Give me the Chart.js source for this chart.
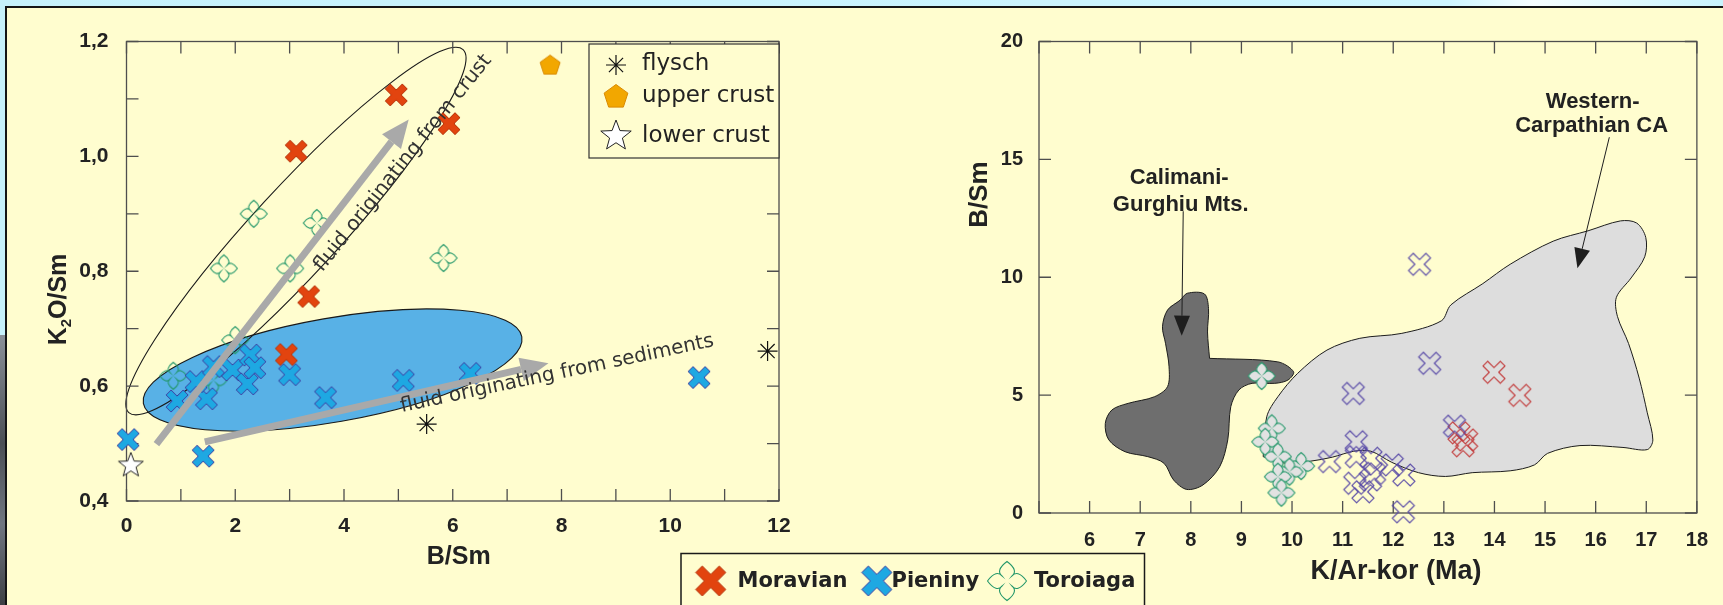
<!DOCTYPE html>
<html>
<head>
<meta charset="utf-8">
<script src="https://cdn.jsdelivr.net/npm/chart.js@4/dist/chart.umd.min.js"></script>
<style>
  body { margin: 0; width: 1723px; height: 605px; overflow: hidden; position: relative;
         background: linear-gradient(90deg, #c6f1fb 0%, #cdf5ff 84%, #f6feff 89%, #c8f3fd 100%); }
  #panel { position: absolute; left: 5px; top: 6px; right: 0; bottom: 0; background: #FFFDCF;
           border-top: 2px solid #151515; border-left: 2px solid #151515; }
  #rock { position: absolute; left: 0; top: 335px; width: 5px; height: 270px;
          background: linear-gradient(#8a9098, #4b4f55 40%, #707680 70%, #3c3f44); }
  canvas { position: absolute; left: 0; top: 0; }
</style>
</head>
<body>
<div id="panel"></div>
<div id="rock"></div>
<canvas id="left" width="1723" height="605"></canvas>
<canvas id="right" width="1723" height="605"></canvas>
<script>
// ===== Данные: левая диаграмма (B/Sm – K2O/Sm) =====
const moravianBSm = [4.96, 5.93, 3.12, 3.35, 2.94];
const moravianK2O = [1.107, 1.057, 1.009, 0.756, 0.655];
const pieninyBSm = [0.03, 1.41, 0.93, 1.47, 1.28, 1.60, 1.95, 2.22, 2.28, 2.36, 3.00, 3.66, 5.09, 6.32, 10.53];
const pieninyK2O = [0.507, 0.478, 0.574, 0.578, 0.608, 0.634, 0.628, 0.604, 0.654, 0.632, 0.620, 0.580, 0.610, 0.622, 0.615];
const toroiagaBSm = [2.34, 3.50, 1.79, 3.01, 5.83, 2.00, 0.86, 1.60];
const toroiagaK2O = [0.900, 0.884, 0.805, 0.805, 0.823, 0.680, 0.618, 0.610];
const flyschBSm = [5.52, 11.79];
const flyschK2O = [0.534, 0.661];
const upperCrustBSm = [7.79];
const upperCrustK2O = [1.158];
const lowerCrustBSm = [0.08];
const lowerCrustK2O = [0.462];

// поля-эллипсы: [центр, конец большой оси, конец малой оси]
const crustFieldBSm = [3.116, 6.19, 3.697];
const crustFieldK2O = [0.870, 1.186, 0.819];
const sedimentFieldBSm = [3.79, 7.27, 3.96];
const sedimentFieldK2O = [0.628, 0.686, 0.539];

// стрелки: [начало, остриё]
const crustArrowBSm = [0.55, 5.19];
const crustArrowK2O = [0.499, 1.064];
const sedimentArrowBSm = [1.44, 7.76];
const sedimentArrowK2O = [0.503, 0.640];
// линии подписей: [начало, конец]
const crustTextBSm = [3.60, 6.72];
const crustTextK2O = [0.798, 1.167];
const sedimentTextBSm = [5.06, 10.82];
const sedimentTextK2O = [0.555, 0.670];

// ===== Данные: правая диаграмма (K/Ar-kor – B/Sm) =====
const moravianAge = [13.99, 14.50, 13.30, 13.45, 13.38];
const moravianBSmR = [5.97, 4.99, 3.40, 3.10, 2.85];
const pieninyAge = [12.52, 12.72, 11.21, 13.21, 11.27, 10.74, 11.27, 11.56, 11.98, 12.21, 11.63, 11.24, 11.40, 11.55, 12.20];
const pieninyBSmR = [10.55, 6.35, 5.07, 3.68, 3.02, 2.18, 2.39, 2.32, 2.04, 1.61, 1.68, 1.26, 0.90, 1.40, 0.05];
const toroiagaAge = [9.40, 9.60, 9.47, 9.72, 10.18, 9.95, 9.72, 9.79];
const toroiagaBSmR = [5.81, 3.59, 3.02, 2.39, 1.99, 1.75, 1.54, 0.86];

const calimaniAge = [8.37, 9.72, 10.03, 9.92, 9.66, 9.21, 8.95, 8.79, 8.73, 8.57, 8.24, 7.92, 7.66, 7.47, 7.15, 6.70,
  6.38, 6.31, 6.44, 6.76, 7.28, 7.54, 7.57, 7.50, 7.44, 7.54, 7.79, 7.93, 8.27, 8.35, 8.33, 8.37];
const calimaniBSm = [6.56, 6.41, 5.99, 5.64, 5.50, 5.50, 5.22, 4.51, 3.10, 1.96, 1.19, 1.00, 1.40, 2.11, 2.39, 2.60,
  3.10, 3.80, 4.37, 4.65, 4.93, 5.36, 6.20, 7.20, 7.90, 8.61, 9.03, 9.32, 9.29, 8.67, 7.68, 6.56];
const westernAge = [9.43, 9.50, 9.72, 10.11, 10.69, 11.34, 12.17, 12.95, 13.14, 13.77, 14.31, 15.16, 15.85, 16.49, 16.81,
  16.99, 16.97, 16.70, 16.41, 16.43, 16.65, 16.86, 17.02, 17.13, 17.02, 16.54, 15.69, 15.05, 14.79, 14.31, 13.56,
  13.03, 12.50, 11.97, 11.56, 11.22, 10.80, 10.37, 9.84, 9.43];
const westernBSm = [2.39, 4.08, 4.93, 5.92, 6.91, 7.41, 7.62, 8.15, 8.83, 9.73, 10.55, 11.53, 11.97, 12.39, 12.30,
  11.69, 10.87, 9.97, 9.15, 8.34, 7.19, 5.72, 4.25, 3.10, 2.69, 2.78, 2.86, 2.53, 2.04, 1.79, 1.71,
  1.55, 1.71, 2.15, 2.62, 2.62, 2.37, 2.20, 2.12, 2.39];

const calimaniArrowAge = [7.85, 7.82];
const calimaniArrowBSm = [12.8, 7.52];
const westernArrowAge = [16.27, 15.64];
const westernArrowBSm = [15.94, 10.38];
const calimaniLabel = ["Calimani-", "Gurghiu Mts."];
const calimaniLabelAge = [7.77, 7.80];
const calimaniLabelBSm = [14.2, 13.08];
const westernLabel = ["Western-", "Carpathian CA"];
const westernLabelAge = [15.94, 15.92];
const westernLabelBSm = [17.43, 16.40];

// ===== Стили =====
const SANS = '"Liberation Sans", Arial, sans-serif';
const DEJAVU = '"DejaVu Sans", Verdana, sans-serif';
const INK = "#222";
const AXIS = "#4e4e4e";
const PANEL = "#FFFDCF";

const xy = (xs, ys) => xs.map((x, i) => ({ x, y: ys[i] }));

// Значки точек
function sym(size, paint) {
  const c = document.createElement("canvas");
  c.width = size; c.height = size;
  const g = c.getContext("2d");
  g.translate(size / 2, size / 2);
  paint(g);
  return c;
}
function xPath(g, s, t) {
  const a = t * Math.SQRT2;
  g.beginPath();
  g.moveTo(-s + a, -s); g.lineTo(0, -a); g.lineTo(s - a, -s); g.lineTo(s, -s + a);
  g.lineTo(a, 0); g.lineTo(s, s - a); g.lineTo(s - a, s); g.lineTo(0, a);
  g.lineTo(-s + a, s); g.lineTo(-s, s - a); g.lineTo(-a, 0); g.lineTo(-s, -s + a);
  g.closePath();
}
function crossPath(g, r) {
  const w = 0.26 * r;
  g.beginPath();
  for (let k = 0; k < 4; k++) {
    const c = Math.cos(k * Math.PI / 2), s = Math.sin(k * Math.PI / 2);
    const P = (u, v) => [u * c - v * s, u * s + v * c];
    const p0 = P(w, -w);
    if (k === 0) g.moveTo(...p0); else g.lineTo(...p0);
    g.bezierCurveTo(...P(0.42 * r, -0.46 * r), ...P(0.68 * r, -0.44 * r), ...P(r, 0));
    g.bezierCurveTo(...P(0.68 * r, 0.44 * r), ...P(0.42 * r, 0.46 * r), ...P(w, w));
  }
  g.closePath();
}
function polyPath(g, n, r, r2) {
  g.beginPath();
  const m = r2 ? n * 2 : n;
  for (let i = 0; i < m; i++) {
    const ang = -Math.PI / 2 + i * 2 * Math.PI / m;
    const rr = r2 && i % 2 ? r2 : r;
    g.lineTo(rr * Math.cos(ang), rr * Math.sin(ang));
  }
  g.closePath();
}
const solidX = (size, s, t, fill, line) => sym(size, g => {
  xPath(g, s, t); g.fillStyle = fill; g.fill(); g.strokeStyle = line; g.lineWidth = 1; g.stroke();
});
const openX = (size, s, t, line) => sym(size, g => {
  xPath(g, s, t); g.strokeStyle = line; g.lineWidth = 1.1; g.stroke();
});
const cross = (size, r, fill) => sym(size, g => {
  crossPath(g, r);
  if (fill) { g.fillStyle = fill; g.fill(); }
  g.strokeStyle = "#23976a"; g.lineWidth = 1.1; g.stroke();
});
const pentagon = (size, r) => sym(size, g => {
  polyPath(g, 5, r); g.fillStyle = "#F2A700"; g.fill(); g.strokeStyle = "#D98A00"; g.lineWidth = 1; g.stroke();
});
const star = (size, r) => sym(size, g => {
  polyPath(g, 5, r, r * 0.42); g.fillStyle = "#fff"; g.fill(); g.strokeStyle = "#222"; g.lineWidth = 1; g.stroke();
});

const symMoravian = solidX(26, 11, 3.5, "#E2440F", "#B4330A");
const symPieniny = solidX(26, 11, 3.5, "#1EA8E2", "#3C3CA0");
const symToroiaga = cross(30, 13.5, null);
const symUpper = pentagon(24, 10.5);
const symLower = star(28, 13);
const symMoravianR = openX(26, 11, 3.3, "#C23A3A");
const symPieninyR = openX(26, 11, 3.3, "#5546A6");
const symToroiagaR = cross(30, 13.5, "#E2E2E2");
const legMoravian = solidX(34, 15, 4.6, "#E2440F", "#B4330A");
const legPieniny = solidX(34, 15, 4.6, "#1EA8E2", "#3C3CA0");
const legToroiaga = cross(42, 19.5, null);
const legUpper = pentagon(28, 12.5);
const legLower = star(34, 16);

// ===== Общие помощники рисования =====
function innerTicks(chart, len) {
  const { ctx, chartArea: a, scales: { x, y } } = chart;
  ctx.save();
  ctx.strokeStyle = AXIS; ctx.lineWidth = 1.3;
  ctx.strokeRect(a.left, a.top, a.width, a.height);
  ctx.beginPath();
  x.ticks.forEach(t => {
    const px = x.getPixelForValue(t.value);
    ctx.moveTo(px, a.bottom); ctx.lineTo(px, a.bottom - len);
    ctx.moveTo(px, a.top); ctx.lineTo(px, a.top + len);
  });
  y.ticks.forEach(t => {
    const py = y.getPixelForValue(t.value);
    ctx.moveTo(a.left, py); ctx.lineTo(a.left + len, py);
    ctx.moveTo(a.right, py); ctx.lineTo(a.right - len, py);
  });
  ctx.stroke();
  ctx.restore();
}

function arrow(ctx, x0, y0, x1, y1, shaft, headLen, headHalf, color) {
  const L = Math.hypot(x1 - x0, y1 - y0), ux = (x1 - x0) / L, uy = (y1 - y0) / L;
  const bx = x1 - ux * headLen, by = y1 - uy * headLen;
  ctx.strokeStyle = color; ctx.fillStyle = color; ctx.lineWidth = shaft; ctx.lineCap = "butt";
  ctx.beginPath(); ctx.moveTo(x0, y0); ctx.lineTo(bx, by); ctx.stroke();
  ctx.beginPath(); ctx.moveTo(x1, y1);
  ctx.lineTo(bx - uy * headHalf, by + ux * headHalf);
  ctx.lineTo(bx + uy * headHalf, by - ux * headHalf);
  ctx.closePath(); ctx.fill();
}

function ellipse(ctx, x, y, xs, ys, fill) {
  const cx = x.getPixelForValue(xs[0]), cy = y.getPixelForValue(ys[0]);
  const ax = x.getPixelForValue(xs[1]) - cx, ay = y.getPixelForValue(ys[1]) - cy;
  const bx = x.getPixelForValue(xs[2]) - cx, by = y.getPixelForValue(ys[2]) - cy;
  ctx.beginPath();
  ctx.ellipse(cx, cy, Math.hypot(ax, ay), Math.hypot(bx, by), Math.atan2(ay, ax), 0, Math.PI * 2);
  if (fill) { ctx.fillStyle = fill; ctx.fill(); }
  ctx.strokeStyle = "#1a1a1a"; ctx.lineWidth = 1.1; ctx.stroke();
}

function textAlong(ctx, x, y, xs, ys, text) {
  const x0 = x.getPixelForValue(xs[0]), y0 = y.getPixelForValue(ys[0]);
  const x1 = x.getPixelForValue(xs[1]), y1 = y.getPixelForValue(ys[1]);
  const L = Math.hypot(x1 - x0, y1 - y0);
  ctx.font = `20px ${DEJAVU}`;
  const size = 20 * L / ctx.measureText(text).width;
  ctx.save();
  ctx.translate(x0, y0); ctx.rotate(Math.atan2(y1 - y0, x1 - x0));
  ctx.font = `${size.toFixed(2)}px ${DEJAVU}`;
  ctx.fillStyle = "#333"; ctx.textBaseline = "alphabetic"; ctx.textAlign = "left";
  ctx.fillText(text, 0, 0);
  ctx.restore();
}

// ===== Левая диаграмма =====
const leftDecor = {
  id: "leftDecor",
  beforeDatasetsDraw(chart) {
    const { ctx, scales: { x, y } } = chart;
    ctx.save();
    ellipse(ctx, x, y, sedimentFieldBSm, sedimentFieldK2O, "#58B1E6");
    ellipse(ctx, x, y, crustFieldBSm, crustFieldK2O, null);
    ctx.restore();
    innerTicks(chart, 12);
  },
  afterDatasetsDraw(chart) {
    const { ctx, chartArea: a, scales: { x, y } } = chart;
    ctx.save();
    arrow(ctx, x.getPixelForValue(crustArrowBSm[0]), y.getPixelForValue(crustArrowK2O[0]),
      x.getPixelForValue(crustArrowBSm[1]), y.getPixelForValue(crustArrowK2O[1]), 7, 28, 12, "#A9A9A9");
    arrow(ctx, x.getPixelForValue(sedimentArrowBSm[0]), y.getPixelForValue(sedimentArrowK2O[0]),
      x.getPixelForValue(sedimentArrowBSm[1]), y.getPixelForValue(sedimentArrowK2O[1]), 7, 28, 12, "#A9A9A9");
    textAlong(ctx, x, y, crustTextBSm, crustTextK2O, "fluid originating from crust");
    textAlong(ctx, x, y, sedimentTextBSm, sedimentTextK2O, "fluid originating from sediments");

    // легенда в углу
    const bx = a.right - 190, by = a.top + 2.5, bw = 190, bh = 114;
    ctx.fillStyle = PANEL; ctx.fillRect(bx, by, bw, bh);
    ctx.strokeStyle = "#333"; ctx.lineWidth = 1.2; ctx.strokeRect(bx, by, bw, bh);
    ctx.strokeStyle = "#111";
    Chart.helpers.drawPoint(ctx, { pointStyle: "star", radius: 10, borderWidth: 1.2, rotation: 0 }, bx + 27, by + 21);
    ctx.drawImage(legUpper, bx + 27 - 14, by + 53 - 14);
    ctx.drawImage(legLower, bx + 27 - 17, by + 92 - 17);
    ctx.fillStyle = INK; ctx.font = `23px ${DEJAVU}`; ctx.textBaseline = "middle"; ctx.textAlign = "left";
    ctx.fillText("flysch", bx + 53, by + 20);
    ctx.fillText("upper crust", bx + 53, by + 52);
    ctx.fillText("lower crust", bx + 53, by + 92);

    // подписи осей
    ctx.fillStyle = INK; ctx.textAlign = "center"; ctx.textBaseline = "middle";
    ctx.font = `bold 25px ${SANS}`;
    ctx.fillText("B/Sm", (a.left + a.right) / 2 + 6, a.bottom + 56);
    ctx.translate(a.left - 70, a.top + 258);
    ctx.rotate(-Math.PI / 2);
    const big = `bold 25px ${SANS}`, small = `bold 15px ${SANS}`;
    ctx.font = big; const wK = ctx.measureText("K").width, wR = ctx.measureText("O/Sm").width;
    ctx.font = small; const w2 = ctx.measureText("2").width;
    let sx = -(wK + w2 + wR) / 2;
    ctx.textAlign = "left"; ctx.textBaseline = "alphabetic";
    ctx.font = big; ctx.fillText("K", sx, 9); sx += wK;
    ctx.font = small; ctx.fillText("2", sx, 14); sx += w2;
    ctx.font = big; ctx.fillText("O/Sm", sx, 9);
    ctx.restore();
  }
};

const tickFontL = { family: SANS, size: 21, weight: "bold" };
new Chart(document.getElementById("left"), {
  type: "scatter",
  data: {
    datasets: [
      { label: "Moravian", data: xy(moravianBSm, moravianK2O), pointStyle: symMoravian },
      { label: "Pieniny", data: xy(pieninyBSm, pieninyK2O), pointStyle: symPieniny },
      { label: "Toroiaga", data: xy(toroiagaBSm, toroiagaK2O), pointStyle: symToroiaga },
      { label: "flysch", data: xy(flyschBSm, flyschK2O), pointStyle: "star", pointRadius: 10, borderColor: "#111", borderWidth: 1.2 },
      { label: "upper crust", data: xy(upperCrustBSm, upperCrustK2O), pointStyle: symUpper },
      { label: "lower crust", data: xy(lowerCrustBSm, lowerCrustK2O), pointStyle: symLower }
    ].map(d => ({ pointRadius: 11, clip: false, ...d }))
  },
  options: {
    responsive: false, animation: false, events: [],
    layout: { padding: { left: 0, top: 41.5, right: 944, bottom: 0 } },
    plugins: { legend: { display: false }, tooltip: { enabled: false } },
    scales: {
      x: {
        type: "linear", min: 0, max: 12,
        grid: { display: false, drawTicks: false }, border: { display: false },
        ticks: { stepSize: 1, autoSkip: false, maxRotation: 0, padding: 13, color: INK, font: tickFontL,
                 callback: v => (Math.round(v) % 2 === 0 ? String(Math.round(v)) : "") },
        afterFit: s => { s.height = 104; }
      },
      y: {
        type: "linear", min: 0.4, max: 1.2,
        grid: { display: false, drawTicks: false }, border: { display: false },
        ticks: { stepSize: 0.1, autoSkip: false, padding: 18, color: INK, font: tickFontL,
                 callback: v => { const k = Math.round(v * 10); return k % 2 === 0 ? (k / 10).toFixed(1).replace(".", ",") : ""; } },
        afterFit: s => { s.width = 126.5; }
      }
    }
  },
  plugins: [leftDecor]
});

// ===== Правая диаграмма =====
const rightDecor = {
  id: "rightDecor",
  beforeDatasetsDraw(chart) { innerTicks(chart, 12); },
  afterDatasetsDraw(chart) {
    const { ctx, chartArea: a, scales: { x, y } } = chart;
    ctx.save();
    arrow(ctx, x.getPixelForValue(calimaniArrowAge[0]), y.getPixelForValue(calimaniArrowBSm[0]),
      x.getPixelForValue(calimaniArrowAge[1]), y.getPixelForValue(calimaniArrowBSm[1]), 1, 20, 8, "#1e1e1e");
    arrow(ctx, x.getPixelForValue(westernArrowAge[0]), y.getPixelForValue(westernArrowBSm[0]),
      x.getPixelForValue(westernArrowAge[1]), y.getPixelForValue(westernArrowBSm[1]), 1, 20, 8, "#1e1e1e");
    ctx.fillStyle = INK; ctx.font = `bold 22px ${SANS}`; ctx.textAlign = "center"; ctx.textBaseline = "middle";
    calimaniLabel.forEach((t, i) => ctx.fillText(t, x.getPixelForValue(calimaniLabelAge[i]), y.getPixelForValue(calimaniLabelBSm[i])));
    westernLabel.forEach((t, i) => ctx.fillText(t, x.getPixelForValue(westernLabelAge[i]), y.getPixelForValue(westernLabelBSm[i])));

    // подписи осей
    ctx.font = `bold 27px ${SANS}`;
    ctx.fillText("K/Ar-kor (Ma)", (a.left + a.right) / 2 + 28, a.bottom + 59);
    ctx.save();
    ctx.translate(a.left - 59, a.top + 153); ctx.rotate(-Math.PI / 2);
    ctx.font = `bold 26px ${SANS}`;
    ctx.fillText("B/Sm", 0, 0);
    ctx.restore();

    // общая легенда внизу
    const lx = 681, ly = 553.5;
    ctx.fillStyle = PANEL; ctx.fillRect(lx, ly, 463.5, 60);
    ctx.strokeStyle = "#1a1a1a"; ctx.lineWidth = 1.5; ctx.strokeRect(lx, ly, 463.5, 60);
    ctx.drawImage(legMoravian, 710.7 - 17, 581 - 17);
    ctx.drawImage(legPieniny, 876.8 - 17, 581 - 17);
    ctx.drawImage(legToroiaga, 1007 - 21, 581 - 21);
    ctx.fillStyle = INK; ctx.font = `bold 21px ${DEJAVU}`; ctx.textAlign = "left"; ctx.textBaseline = "middle";
    ctx.fillText("Moravian", 737.5, 582);
    ctx.fillText("Pieniny", 891.5, 582);
    ctx.fillText("Toroiaga", 1034, 582);
    ctx.restore();
  }
};

const tickFontR = { family: SANS, size: 20, weight: "bold" };
const region = (label, xs, ys, fill) => ({
  type: "line", label, data: xy(xs, ys), fill: "shape", backgroundColor: fill,
  borderColor: "#1c1c1c", borderWidth: 1, pointRadius: 0, tension: 0.32, clip: false
});
new Chart(document.getElementById("right"), {
  type: "scatter",
  data: {
    datasets: [
      { label: "Toroiaga", data: xy(toroiagaAge, toroiagaBSmR), pointStyle: symToroiagaR, pointRadius: 12, clip: false },
      { label: "Pieniny", data: xy(pieninyAge, pieninyBSmR), pointStyle: symPieninyR, pointRadius: 11, clip: false },
      { label: "Moravian", data: xy(moravianAge, moravianBSmR), pointStyle: symMoravianR, pointRadius: 11, clip: false },
      region("Western-Carpathian CA", westernAge, westernBSm, "#DDDDDD"),
      region("Calimani-Gurghiu Mts.", calimaniAge, calimaniBSm, "#6E6E6E")
    ]
  },
  options: {
    responsive: false, animation: false, events: [],
    layout: { padding: { left: 860, top: 41.5, right: 11.5, bottom: 0 } },
    plugins: { legend: { display: false }, tooltip: { enabled: false } },
    scales: {
      x: {
        type: "linear", min: 5, max: 18,
        grid: { display: false, drawTicks: false }, border: { display: false },
        ticks: { stepSize: 1, autoSkip: false, maxRotation: 0, padding: 15, color: INK, font: tickFontR,
                 callback: v => (Math.round(v) === 5 ? "" : String(Math.round(v))) },
        afterFit: s => { s.height = 92; }
      },
      y: {
        type: "linear", min: 0, max: 20,
        grid: { display: false, drawTicks: false }, border: { display: false },
        ticks: { stepSize: 5, autoSkip: false, padding: 16, color: INK, font: tickFontR },
        afterFit: s => { s.width = 179; }
      }
    }
  },
  plugins: [rightDecor]
});
</script>
</body>
</html>
